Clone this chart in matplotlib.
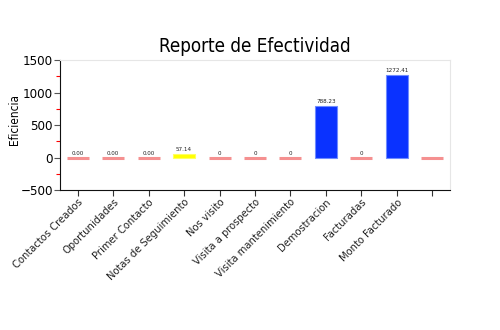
import numpy as np
import matplotlib
matplotlib.use("Agg")
import matplotlib.pyplot as plt
from matplotlib.ticker import MultipleLocator

# data
categories = ["Contactos Creados", "Oportunidades", "Primer Contacto",
              "Notas de Seguimiento", "Nos visito", "Visita a prospecto",
              "Visita mantenimiento", "Demostracion", "Facturadas",
              "Monto Facturado", ""]
values = [0, 0, 0, 57.14, 0, 0, 0, 788.23, 0, 1272.41, 0]
value_labels = ["0.00", "0.00", "0.00", "57.14", "0", "0", "0",
                "788.23", "0", "1272.41", ""]

plt.rcParams['font.family'] = ['DejaVu Sans']
plt.rcParams['font.stretch'] = 'condensed'

fig = plt.figure(figsize=(5, 3.3), dpi=100)
ax = fig.add_axes([0.12, 0.424, 0.78, 0.394])

x = np.arange(len(categories))
for xi, v in zip(x, values):
    if v == 0:
        ax.bar(xi, 0, width=0.62, color="#f59090", edgecolor="#f59090", linewidth=2.2)
    elif v < 100:
        ax.bar(xi, v, width=0.62, color="#ffff00", edgecolor="#ffff60", linewidth=0.8)
    else:
        ax.bar(xi, v, width=0.62, color="#0a32ff", edgecolor="#6f8cff", linewidth=0.8)

for xi, v, lab in zip(x, values, value_labels):
    if lab:
        ax.text(xi, v + 30, lab, ha="center", va="bottom", fontsize=4.5, color="#222222")

ax.set_xlim(-0.5, 10.5)
ax.set_ylim(-500, 1500)
ax.yaxis.set_major_locator(MultipleLocator(500))
ax.yaxis.set_minor_locator(MultipleLocator(250))
ax.tick_params(axis="y", which="minor", length=3, color="red", width=0.8)
ax.tick_params(axis="y", which="major", length=4, color="#555555", labelsize=9.5, pad=1)
ax.tick_params(axis="x", length=4, color="#333333", labelsize=8, pad=1)

ax.set_xticks(x)
ax.set_xticklabels(categories, rotation=45, ha="right", rotation_mode="anchor", color="#222222")
ax.set_ylabel("Eficiencia", fontsize=8.5)
ax.yaxis.set_label_coords(-0.1, 0.54)
ax.set_title("Reporte de Efectividad", fontsize=13.5, pad=6)

for side in ["top", "right"]:
    ax.spines[side].set_color("#e6e6e6")
ax.spines["left"].set_color("#111111")
ax.spines["bottom"].set_color("#111111")

plt.savefig("out.png", dpi=100)
